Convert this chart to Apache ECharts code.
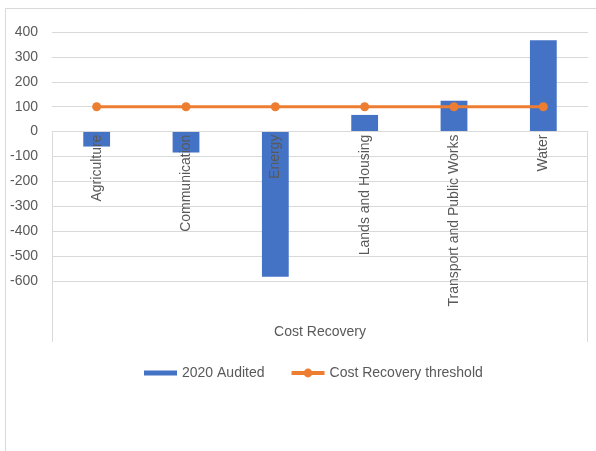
<!DOCTYPE html>
<html>
<head>
<meta charset="utf-8">
<script src="https://cdn.jsdelivr.net/npm/echarts@6/dist/echarts.min.js"></script>
<style>
  html, body { margin: 0; padding: 0; background: #fff; }
  #chart { width: 596px; height: 451px; }
</style>
</head>
<body>
<div id="chart"></div>
<script>
// Sector cost recovery, 2020 audited figures against the 100 threshold
const categories = ['Agriculture', 'Communication', 'Energy', 'Lands and Housing', 'Transport and Public Works', 'Water'];
const audited2020 = [-60, -84, -583, 67, 124, 367];
const threshold = [100, 100, 100, 100, 100, 100];
const yTicks = { min: -600, max: 400, interval: 100 };
const groupLabel = 'Cost Recovery';

const FONT = '"Liberation Sans", "Open Sans", sans-serif';
const TEXT = '#595959';
const GRID = '#D9D9D9';
const FS = 14;

// Plot area; the label band grid ends where the value axis crosses zero
const PLOT = { left: 52, right: 8, top: 32, height: 249 };
const zeroOffset = PLOT.height * yTicks.max / (yTicks.max - yTicks.min);

const chart = echarts.init(document.getElementById('chart'));

const option = {
  animation: false,
  backgroundColor: '#fff',
  textStyle: { fontFamily: FONT },
  grid: [
    { left: PLOT.left, right: PLOT.right, top: PLOT.top, height: PLOT.height, outerBoundsMode: 'none', containLabel: false },
    { left: PLOT.left, right: PLOT.right, top: PLOT.top, height: zeroOffset, outerBoundsMode: 'none', containLabel: false }
  ],
  legend: {
    top: 361,
    left: 139,
    itemGap: 25,
    itemWidth: 33,
    itemHeight: 11,
    textStyle: { color: TEXT, fontSize: FS, fontFamily: FONT },
    data: [
      { name: '2020 Audited', icon: 'path://M0,0H33V5H0Z' },
      { name: 'Cost Recovery threshold', lineStyle: { width: 4 } }
    ]
  },
  xAxis: [
    {
      type: 'category',
      gridIndex: 0,
      data: categories,
      axisLine: { show: false },
      axisTick: { show: false },
      axisLabel: { show: false }
    },
    {
      type: 'category',
      gridIndex: 1,
      position: 'bottom',
      z: 10,
      data: categories,
      axisLine: { show: true, onZero: false, lineStyle: { color: GRID, width: 1 } },
      axisTick: { show: false },
      axisLabel: {
        rotate: 90,
        interval: 0,
        margin: 3,
        color: TEXT,
        fontSize: FS,
        fontFamily: FONT
      },
      name: groupLabel,
      nameLocation: 'middle',
      nameGap: 194,
      nameTextStyle: { color: TEXT, fontSize: FS, fontFamily: FONT }
    }
  ],
  yAxis: [
    {
      type: 'value',
      gridIndex: 0,
      min: yTicks.min,
      max: yTicks.max,
      interval: yTicks.interval,
      axisLine: { show: false },
      axisTick: { show: false },
      splitLine: { lineStyle: { color: GRID, width: 1 } },
      axisLabel: { color: TEXT, fontSize: FS, margin: 14, fontFamily: FONT }
    },
    {
      type: 'value',
      gridIndex: 1,
      show: false,
      min: 0,
      max: yTicks.max,
      splitLine: { show: false }
    }
  ],
  series: [
    {
      name: '2020 Audited',
      type: 'bar',
      xAxisIndex: 0,
      yAxisIndex: 0,
      data: audited2020,
      barWidth: '30%',
      itemStyle: { color: '#4472C4' }
    },
    {
      name: 'Cost Recovery threshold',
      type: 'line',
      xAxisIndex: 0,
      yAxisIndex: 0,
      data: threshold,
      symbol: 'circle',
      symbolSize: 9,
      lineStyle: { color: '#ED7D31', width: 3 },
      itemStyle: { color: '#ED7D31' },
      z: 3
    }
  ]
};

chart.setOption(option);

// Frame of the category label band and the outer chart border
const origin = chart.convertToPixel({ gridIndex: 0 }, [0, 0]);
const gridRect = chart.getModel().getComponent('grid', 0).coordinateSystem.getRect();
const x0 = Math.round(gridRect.x) + 0.5;
const x1 = Math.round(gridRect.x + gridRect.width) - 0.5;
const yZero = Math.round(origin[1]) + 0.5;
const bandBottom = Math.round(gridRect.y + gridRect.height) + 61;

chart.setOption({
  graphic: [
    {
      type: 'rect', silent: true,
      shape: { x: 5.5, y: 8.5, width: 620, height: 470 },
      style: { fill: 'none', stroke: GRID, lineWidth: 1 }
    },
    {
      type: 'line', silent: true,
      shape: { x1: x0, y1: yZero, x2: x0, y2: bandBottom },
      style: { stroke: GRID, lineWidth: 1 }
    },
    {
      type: 'line', silent: true,
      shape: { x1: x1, y1: yZero, x2: x1, y2: bandBottom },
      style: { stroke: GRID, lineWidth: 1 }
    }
  ]
});
</script>
</body>
</html>
